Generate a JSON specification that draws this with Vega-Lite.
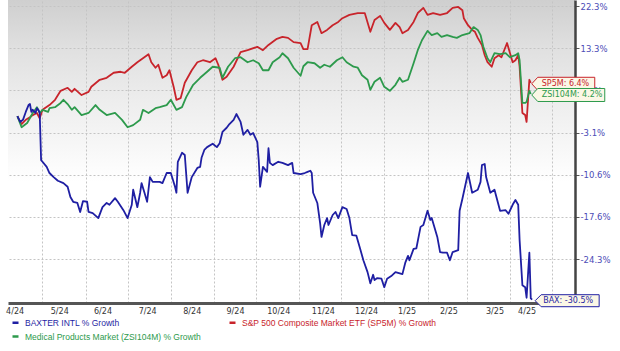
{
  "$schema": "https://vega.github.io/schema/vega-lite/v6.json",
  "width": 567,
  "height": 303,
  "autosize": {"type": "none"},
  "padding": {"left": 8, "top": 0, "right": 45, "bottom": 48},
  "background": "#ffffff",
  "view": {
    "stroke": null,
    "fill": {"gradient": "linear", "x1": 0, "y1": 0, "x2": 0, "y2": 1,
      "stops": [
        {"offset": 0, "color": "#cfcfcf"},
        {"offset": 0.16, "color": "#e0e0e0"},
        {"offset": 0.33, "color": "#ededed"},
        {"offset": 0.5, "color": "#f8f8f8"},
        {"offset": 0.6, "color": "#ffffff"},
        {"offset": 1, "color": "#ffffff"}
      ]}
  },
  "config": {"font": "DejaVu Sans"},
  "datasets": {
    "lines": [
      {"t":"2024-04-13","s":"SP5M","v":0},{"t":"2024-04-15","s":"SP5M","v":-1.1},{"t":"2024-04-16","s":"SP5M","v":-1.5},{"t":"2024-04-19","s":"SP5M","v":-0.7},{"t":"2024-04-22","s":"SP5M","v":-0.2},{"t":"2024-04-24","s":"SP5M","v":0.2},{"t":"2024-04-27","s":"SP5M","v":0.6},{"t":"2024-04-29","s":"SP5M","v":-0.4},{"t":"2024-05-01","s":"SP5M","v":1.2},{"t":"2024-05-06","s":"SP5M","v":2.1},{"t":"2024-05-10","s":"SP5M","v":3.1},{"t":"2024-05-14","s":"SP5M","v":4.8},{"t":"2024-05-19","s":"SP5M","v":5.4},{"t":"2024-05-22","s":"SP5M","v":4.6},{"t":"2024-05-24","s":"SP5M","v":5.2},{"t":"2024-05-29","s":"SP5M","v":4.0},{"t":"2024-06-03","s":"SP5M","v":4.6},{"t":"2024-06-05","s":"SP5M","v":5.6},{"t":"2024-06-11","s":"SP5M","v":7.0},{"t":"2024-06-16","s":"SP5M","v":7.4},{"t":"2024-06-21","s":"SP5M","v":8.4},{"t":"2024-06-26","s":"SP5M","v":8.6},{"t":"2024-06-29","s":"SP5M","v":8.4},{"t":"2024-07-04","s":"SP5M","v":9.6},{"t":"2024-07-08","s":"SP5M","v":10.5},{"t":"2024-07-11","s":"SP5M","v":11.1},{"t":"2024-07-16","s":"SP5M","v":12.1},{"t":"2024-07-18","s":"SP5M","v":10.5},{"t":"2024-07-21","s":"SP5M","v":9.4},{"t":"2024-07-23","s":"SP5M","v":10.0},{"t":"2024-07-26","s":"SP5M","v":7.4},{"t":"2024-07-29","s":"SP5M","v":7.9},{"t":"2024-07-31","s":"SP5M","v":8.9},{"t":"2024-08-03","s":"SP5M","v":5.6},{"t":"2024-08-05","s":"SP5M","v":3.1},{"t":"2024-08-08","s":"SP5M","v":3.4},{"t":"2024-08-11","s":"SP5M","v":6.4},{"t":"2024-08-16","s":"SP5M","v":8.9},{"t":"2024-08-20","s":"SP5M","v":10.5},{"t":"2024-08-24","s":"SP5M","v":10.9},{"t":"2024-08-29","s":"SP5M","v":10.5},{"t":"2024-09-02","s":"SP5M","v":11.3},{"t":"2024-09-04","s":"SP5M","v":10.0},{"t":"2024-09-07","s":"SP5M","v":7.0},{"t":"2024-09-10","s":"SP5M","v":7.6},{"t":"2024-09-15","s":"SP5M","v":9.6},{"t":"2024-09-20","s":"SP5M","v":12.5},{"t":"2024-09-25","s":"SP5M","v":12.9},{"t":"2024-10-02","s":"SP5M","v":13.6},{"t":"2024-10-06","s":"SP5M","v":12.9},{"t":"2024-10-10","s":"SP5M","v":14.0},{"t":"2024-10-16","s":"SP5M","v":15.3},{"t":"2024-10-20","s":"SP5M","v":15.7},{"t":"2024-10-24","s":"SP5M","v":15.5},{"t":"2024-10-28","s":"SP5M","v":14.6},{"t":"2024-11-02","s":"SP5M","v":14.4},{"t":"2024-11-04","s":"SP5M","v":13.1},{"t":"2024-11-07","s":"SP5M","v":13.1},{"t":"2024-11-10","s":"SP5M","v":18.2},{"t":"2024-11-14","s":"SP5M","v":18.9},{"t":"2024-11-17","s":"SP5M","v":16.5},{"t":"2024-11-21","s":"SP5M","v":17.2},{"t":"2024-11-25","s":"SP5M","v":18.2},{"t":"2024-11-29","s":"SP5M","v":18.9},{"t":"2024-12-02","s":"SP5M","v":19.7},{"t":"2024-12-07","s":"SP5M","v":20.4},{"t":"2024-12-13","s":"SP5M","v":20.8},{"t":"2024-12-18","s":"SP5M","v":20.8},{"t":"2024-12-22","s":"SP5M","v":16.8},{"t":"2024-12-25","s":"SP5M","v":19.3},{"t":"2024-12-29","s":"SP5M","v":20.2},{"t":"2025-01-01","s":"SP5M","v":18.7},{"t":"2025-01-05","s":"SP5M","v":17.2},{"t":"2025-01-09","s":"SP5M","v":18.7},{"t":"2025-01-12","s":"SP5M","v":17.8},{"t":"2025-01-14","s":"SP5M","v":16.5},{"t":"2025-01-18","s":"SP5M","v":17.2},{"t":"2025-01-22","s":"SP5M","v":18.9},{"t":"2025-01-25","s":"SP5M","v":20.8},{"t":"2025-01-29","s":"SP5M","v":21.9},{"t":"2025-02-01","s":"SP5M","v":20.4},{"t":"2025-02-05","s":"SP5M","v":20.8},{"t":"2025-02-10","s":"SP5M","v":20.4},{"t":"2025-02-15","s":"SP5M","v":20.8},{"t":"2025-02-19","s":"SP5M","v":21.9},{"t":"2025-02-23","s":"SP5M","v":22.1},{"t":"2025-02-26","s":"SP5M","v":21.4},{"t":"2025-02-27","s":"SP5M","v":19.7},{"t":"2025-03-02","s":"SP5M","v":18.2},{"t":"2025-03-05","s":"SP5M","v":17.2},{"t":"2025-03-07","s":"SP5M","v":16.8},{"t":"2025-03-09","s":"SP5M","v":15.5},{"t":"2025-03-12","s":"SP5M","v":14.0},{"t":"2025-03-14","s":"SP5M","v":11.9},{"t":"2025-03-16","s":"SP5M","v":10.5},{"t":"2025-03-19","s":"SP5M","v":9.6},{"t":"2025-03-21","s":"SP5M","v":11.3},{"t":"2025-03-24","s":"SP5M","v":11.9},{"t":"2025-03-26","s":"SP5M","v":11.5},{"t":"2025-03-30","s":"SP5M","v":14.4},{"t":"2025-04-03","s":"SP5M","v":10.5},{"t":"2025-04-05","s":"SP5M","v":10.9},{"t":"2025-04-07","s":"SP5M","v":11.9},{"t":"2025-04-08","s":"SP5M","v":9.6},{"t":"2025-04-10","s":"SP5M","v":0.6},{"t":"2025-04-12","s":"SP5M","v":0.2},{"t":"2025-04-13","s":"SP5M","v":-1.1},{"t":"2025-04-15","s":"SP5M","v":7.0},{"t":"2025-04-16","s":"SP5M","v":6.4},
      {"t":"2024-04-13","s":"ZSI104M","v":0},{"t":"2024-04-16","s":"ZSI104M","v":-2.1},{"t":"2024-04-20","s":"ZSI104M","v":-1.3},{"t":"2024-04-24","s":"ZSI104M","v":0.6},{"t":"2024-04-27","s":"ZSI104M","v":1.7},{"t":"2024-04-29","s":"ZSI104M","v":0.6},{"t":"2024-05-01","s":"ZSI104M","v":1.2},{"t":"2024-05-05","s":"ZSI104M","v":0.8},{"t":"2024-05-06","s":"ZSI104M","v":1.5},{"t":"2024-05-10","s":"ZSI104M","v":1.7},{"t":"2024-05-14","s":"ZSI104M","v":2.5},{"t":"2024-05-16","s":"ZSI104M","v":3.1},{"t":"2024-05-19","s":"ZSI104M","v":2.3},{"t":"2024-05-22","s":"ZSI104M","v":1.2},{"t":"2024-05-24","s":"ZSI104M","v":1.7},{"t":"2024-05-29","s":"ZSI104M","v":0.2},{"t":"2024-06-03","s":"ZSI104M","v":0.6},{"t":"2024-06-08","s":"ZSI104M","v":2.1},{"t":"2024-06-11","s":"ZSI104M","v":1.2},{"t":"2024-06-16","s":"ZSI104M","v":0.2},{"t":"2024-06-22","s":"ZSI104M","v":0.6},{"t":"2024-06-27","s":"ZSI104M","v":-0.7},{"t":"2024-07-01","s":"ZSI104M","v":-2.1},{"t":"2024-07-05","s":"ZSI104M","v":-1.7},{"t":"2024-07-10","s":"ZSI104M","v":-0.7},{"t":"2024-07-12","s":"ZSI104M","v":1.2},{"t":"2024-07-16","s":"ZSI104M","v":0.6},{"t":"2024-07-21","s":"ZSI104M","v":1.5},{"t":"2024-07-24","s":"ZSI104M","v":1.7},{"t":"2024-07-29","s":"ZSI104M","v":2.1},{"t":"2024-08-01","s":"ZSI104M","v":3.1},{"t":"2024-08-05","s":"ZSI104M","v":1.2},{"t":"2024-08-09","s":"ZSI104M","v":1.7},{"t":"2024-08-12","s":"ZSI104M","v":3.6},{"t":"2024-08-17","s":"ZSI104M","v":6.0},{"t":"2024-08-22","s":"ZSI104M","v":7.4},{"t":"2024-08-27","s":"ZSI104M","v":8.6},{"t":"2024-08-31","s":"ZSI104M","v":9.6},{"t":"2024-09-05","s":"ZSI104M","v":9.4},{"t":"2024-09-07","s":"ZSI104M","v":7.4},{"t":"2024-09-11","s":"ZSI104M","v":9.6},{"t":"2024-09-16","s":"ZSI104M","v":11.3},{"t":"2024-09-20","s":"ZSI104M","v":11.5},{"t":"2024-09-25","s":"ZSI104M","v":10.5},{"t":"2024-09-29","s":"ZSI104M","v":10.9},{"t":"2024-10-03","s":"ZSI104M","v":10.3},{"t":"2024-10-06","s":"ZSI104M","v":8.9},{"t":"2024-10-10","s":"ZSI104M","v":8.9},{"t":"2024-10-13","s":"ZSI104M","v":10.5},{"t":"2024-10-18","s":"ZSI104M","v":11.5},{"t":"2024-10-20","s":"ZSI104M","v":12.3},{"t":"2024-10-24","s":"ZSI104M","v":11.3},{"t":"2024-10-28","s":"ZSI104M","v":9.4},{"t":"2024-11-02","s":"ZSI104M","v":7.8},{"t":"2024-11-04","s":"ZSI104M","v":9.7},{"t":"2024-11-07","s":"ZSI104M","v":10.5},{"t":"2024-11-12","s":"ZSI104M","v":10.3},{"t":"2024-11-16","s":"ZSI104M","v":9.4},{"t":"2024-11-19","s":"ZSI104M","v":10.0},{"t":"2024-11-23","s":"ZSI104M","v":9.6},{"t":"2024-11-28","s":"ZSI104M","v":10.9},{"t":"2024-12-02","s":"ZSI104M","v":11.5},{"t":"2024-12-05","s":"ZSI104M","v":10.5},{"t":"2024-12-10","s":"ZSI104M","v":9.6},{"t":"2024-12-13","s":"ZSI104M","v":9.4},{"t":"2024-12-16","s":"ZSI104M","v":7.9},{"t":"2024-12-20","s":"ZSI104M","v":7.0},{"t":"2024-12-22","s":"ZSI104M","v":5.0},{"t":"2024-12-25","s":"ZSI104M","v":6.6},{"t":"2024-12-29","s":"ZSI104M","v":7.4},{"t":"2025-01-01","s":"ZSI104M","v":5.6},{"t":"2025-01-05","s":"ZSI104M","v":4.8},{"t":"2025-01-09","s":"ZSI104M","v":6.0},{"t":"2025-01-12","s":"ZSI104M","v":7.4},{"t":"2025-01-14","s":"ZSI104M","v":6.6},{"t":"2025-01-18","s":"ZSI104M","v":7.0},{"t":"2025-01-22","s":"ZSI104M","v":10.3},{"t":"2025-01-25","s":"ZSI104M","v":12.9},{"t":"2025-01-28","s":"ZSI104M","v":15.0},{"t":"2025-02-01","s":"ZSI104M","v":17.0},{"t":"2025-02-04","s":"ZSI104M","v":16.1},{"t":"2025-02-08","s":"ZSI104M","v":16.5},{"t":"2025-02-11","s":"ZSI104M","v":15.7},{"t":"2025-02-15","s":"ZSI104M","v":16.1},{"t":"2025-02-19","s":"ZSI104M","v":15.7},{"t":"2025-02-22","s":"ZSI104M","v":15.5},{"t":"2025-02-26","s":"ZSI104M","v":16.1},{"t":"2025-03-03","s":"ZSI104M","v":16.5},{"t":"2025-03-06","s":"ZSI104M","v":17.8},{"t":"2025-03-09","s":"ZSI104M","v":17.2},{"t":"2025-03-11","s":"ZSI104M","v":16.1},{"t":"2025-03-13","s":"ZSI104M","v":13.6},{"t":"2025-03-16","s":"ZSI104M","v":11.3},{"t":"2025-03-18","s":"ZSI104M","v":10.5},{"t":"2025-03-21","s":"ZSI104M","v":12.3},{"t":"2025-03-25","s":"ZSI104M","v":12.1},{"t":"2025-03-29","s":"ZSI104M","v":12.3},{"t":"2025-04-01","s":"ZSI104M","v":11.5},{"t":"2025-04-05","s":"ZSI104M","v":11.9},{"t":"2025-04-07","s":"ZSI104M","v":12.3},{"t":"2025-04-08","s":"ZSI104M","v":10.9},{"t":"2025-04-10","s":"ZSI104M","v":2.5},{"t":"2025-04-12","s":"ZSI104M","v":2.5},{"t":"2025-04-13","s":"ZSI104M","v":2.7},{"t":"2025-04-15","s":"ZSI104M","v":4.8},{"t":"2025-04-16","s":"ZSI104M","v":4.2},
      {"t":"2024-04-13","s":"BAX","v":0},{"t":"2024-04-15","s":"BAX","v":-1.1},{"t":"2024-04-17","s":"BAX","v":-0.7},{"t":"2024-04-19","s":"BAX","v":0.8},{"t":"2024-04-21","s":"BAX","v":2.1},{"t":"2024-04-22","s":"BAX","v":2.3},{"t":"2024-04-23","s":"BAX","v":0.8},{"t":"2024-04-24","s":"BAX","v":1.2},{"t":"2024-04-26","s":"BAX","v":0.6},{"t":"2024-04-27","s":"BAX","v":1.5},{"t":"2024-04-28","s":"BAX","v":1.2},{"t":"2024-04-29","s":"BAX","v":0.6},{"t":"2024-04-30","s":"BAX","v":-8.0},{"t":"2024-05-01","s":"BAX","v":-8.3},{"t":"2024-05-04","s":"BAX","v":-9.2},{"t":"2024-05-06","s":"BAX","v":-10.3},{"t":"2024-05-09","s":"BAX","v":-11.0},{"t":"2024-05-12","s":"BAX","v":-11.6},{"t":"2024-05-16","s":"BAX","v":-12.0},{"t":"2024-05-19","s":"BAX","v":-12.6},{"t":"2024-05-21","s":"BAX","v":-14.3},{"t":"2024-05-23","s":"BAX","v":-15.1},{"t":"2024-05-26","s":"BAX","v":-15.3},{"t":"2024-05-28","s":"BAX","v":-16.8},{"t":"2024-05-30","s":"BAX","v":-15.0},{"t":"2024-06-02","s":"BAX","v":-15.1},{"t":"2024-06-03","s":"BAX","v":-16.8},{"t":"2024-06-06","s":"BAX","v":-17.0},{"t":"2024-06-10","s":"BAX","v":-17.8},{"t":"2024-06-13","s":"BAX","v":-16.0},{"t":"2024-06-16","s":"BAX","v":-15.3},{"t":"2024-06-18","s":"BAX","v":-15.6},{"t":"2024-06-22","s":"BAX","v":-14.5},{"t":"2024-06-24","s":"BAX","v":-15.1},{"t":"2024-06-28","s":"BAX","v":-16.5},{"t":"2024-07-01","s":"BAX","v":-17.8},{"t":"2024-07-04","s":"BAX","v":-15.6},{"t":"2024-07-05","s":"BAX","v":-13.1},{"t":"2024-07-08","s":"BAX","v":-16.0},{"t":"2024-07-10","s":"BAX","v":-13.6},{"t":"2024-07-11","s":"BAX","v":-12.0},{"t":"2024-07-13","s":"BAX","v":-13.5},{"t":"2024-07-15","s":"BAX","v":-15.1},{"t":"2024-07-17","s":"BAX","v":-11.0},{"t":"2024-07-19","s":"BAX","v":-11.8},{"t":"2024-07-24","s":"BAX","v":-11.8},{"t":"2024-07-26","s":"BAX","v":-12.0},{"t":"2024-07-29","s":"BAX","v":-10.3},{"t":"2024-08-01","s":"BAX","v":-10.3},{"t":"2024-08-04","s":"BAX","v":-12.6},{"t":"2024-08-05","s":"BAX","v":-13.6},{"t":"2024-08-06","s":"BAX","v":-8.3},{"t":"2024-08-09","s":"BAX","v":-6.7},{"t":"2024-08-11","s":"BAX","v":-7.1},{"t":"2024-08-13","s":"BAX","v":-13.6},{"t":"2024-08-16","s":"BAX","v":-11.0},{"t":"2024-08-20","s":"BAX","v":-9.4},{"t":"2024-08-22","s":"BAX","v":-9.2},{"t":"2024-08-23","s":"BAX","v":-7.6},{"t":"2024-08-25","s":"BAX","v":-6.2},{"t":"2024-08-27","s":"BAX","v":-5.7},{"t":"2024-08-31","s":"BAX","v":-5.1},{"t":"2024-09-03","s":"BAX","v":-5.7},{"t":"2024-09-05","s":"BAX","v":-5.0},{"t":"2024-09-07","s":"BAX","v":-3.0},{"t":"2024-09-10","s":"BAX","v":-2.2},{"t":"2024-09-12","s":"BAX","v":-1.5},{"t":"2024-09-15","s":"BAX","v":-0.7},{"t":"2024-09-17","s":"BAX","v":0.4},{"t":"2024-09-20","s":"BAX","v":-1.1},{"t":"2024-09-22","s":"BAX","v":-3.5},{"t":"2024-09-25","s":"BAX","v":-2.6},{"t":"2024-09-27","s":"BAX","v":-3.5},{"t":"2024-09-29","s":"BAX","v":-3.2},{"t":"2024-10-02","s":"BAX","v":-4.8},{"t":"2024-10-03","s":"BAX","v":-8.0},{"t":"2024-10-04","s":"BAX","v":-12.6},{"t":"2024-10-06","s":"BAX","v":-9.2},{"t":"2024-10-09","s":"BAX","v":-10.1},{"t":"2024-10-10","s":"BAX","v":-5.9},{"t":"2024-10-11","s":"BAX","v":-8.5},{"t":"2024-10-13","s":"BAX","v":-8.9},{"t":"2024-10-17","s":"BAX","v":-8.3},{"t":"2024-10-20","s":"BAX","v":-8.5},{"t":"2024-10-24","s":"BAX","v":-8.9},{"t":"2024-10-27","s":"BAX","v":-8.5},{"t":"2024-10-28","s":"BAX","v":-10.3},{"t":"2024-11-02","s":"BAX","v":-10.5},{"t":"2024-11-05","s":"BAX","v":-10.3},{"t":"2024-11-07","s":"BAX","v":-10.1},{"t":"2024-11-09","s":"BAX","v":-9.9},{"t":"2024-11-10","s":"BAX","v":-10.3},{"t":"2024-11-11","s":"BAX","v":-13.6},{"t":"2024-11-14","s":"BAX","v":-15.3},{"t":"2024-11-16","s":"BAX","v":-18.6},{"t":"2024-11-17","s":"BAX","v":-20.8},{"t":"2024-11-19","s":"BAX","v":-18.9},{"t":"2024-11-21","s":"BAX","v":-17.8},{"t":"2024-11-22","s":"BAX","v":-18.9},{"t":"2024-11-25","s":"BAX","v":-17.3},{"t":"2024-11-27","s":"BAX","v":-16.8},{"t":"2024-11-29","s":"BAX","v":-17.8},{"t":"2024-12-02","s":"BAX","v":-16.0},{"t":"2024-12-05","s":"BAX","v":-16.3},{"t":"2024-12-07","s":"BAX","v":-17.8},{"t":"2024-12-09","s":"BAX","v":-20.5},{"t":"2024-12-12","s":"BAX","v":-20.6},{"t":"2024-12-15","s":"BAX","v":-22.9},{"t":"2024-12-17","s":"BAX","v":-24.5},{"t":"2024-12-20","s":"BAX","v":-26.3},{"t":"2024-12-22","s":"BAX","v":-28.0},{"t":"2024-12-24","s":"BAX","v":-26.7},{"t":"2024-12-25","s":"BAX","v":-27.5},{"t":"2024-12-27","s":"BAX","v":-27.2},{"t":"2024-12-30","s":"BAX","v":-27.3},{"t":"2025-01-01","s":"BAX","v":-28.6},{"t":"2025-01-03","s":"BAX","v":-27.3},{"t":"2025-01-06","s":"BAX","v":-26.9},{"t":"2025-01-09","s":"BAX","v":-26.3},{"t":"2025-01-14","s":"BAX","v":-26.6},{"t":"2025-01-16","s":"BAX","v":-24.9},{"t":"2025-01-18","s":"BAX","v":-23.8},{"t":"2025-01-19","s":"BAX","v":-24.5},{"t":"2025-01-22","s":"BAX","v":-22.7},{"t":"2025-01-24","s":"BAX","v":-22.6},{"t":"2025-01-27","s":"BAX","v":-19.2},{"t":"2025-01-29","s":"BAX","v":-18.9},{"t":"2025-02-01","s":"BAX","v":-16.6},{"t":"2025-02-03","s":"BAX","v":-18.1},{"t":"2025-02-04","s":"BAX","v":-17.8},{"t":"2025-02-08","s":"BAX","v":-20.8},{"t":"2025-02-10","s":"BAX","v":-23.2},{"t":"2025-02-12","s":"BAX","v":-23.3},{"t":"2025-02-15","s":"BAX","v":-23.3},{"t":"2025-02-17","s":"BAX","v":-24.5},{"t":"2025-02-19","s":"BAX","v":-23.2},{"t":"2025-02-23","s":"BAX","v":-22.9},{"t":"2025-02-24","s":"BAX","v":-16.6},{"t":"2025-02-26","s":"BAX","v":-14.6},{"t":"2025-03-02","s":"BAX","v":-10.3},{"t":"2025-03-05","s":"BAX","v":-13.6},{"t":"2025-03-09","s":"BAX","v":-13.1},{"t":"2025-03-11","s":"BAX","v":-11.8},{"t":"2025-03-12","s":"BAX","v":-8.9},{"t":"2025-03-14","s":"BAX","v":-8.7},{"t":"2025-03-15","s":"BAX","v":-11.0},{"t":"2025-03-18","s":"BAX","v":-13.6},{"t":"2025-03-21","s":"BAX","v":-13.1},{"t":"2025-03-25","s":"BAX","v":-16.6},{"t":"2025-03-29","s":"BAX","v":-16.5},{"t":"2025-03-31","s":"BAX","v":-17.1},{"t":"2025-04-03","s":"BAX","v":-15.6},{"t":"2025-04-05","s":"BAX","v":-14.8},{"t":"2025-04-07","s":"BAX","v":-15.6},{"t":"2025-04-08","s":"BAX","v":-21.3},{"t":"2025-04-10","s":"BAX","v":-28.3},{"t":"2025-04-12","s":"BAX","v":-28.6},{"t":"2025-04-13","s":"BAX","v":-30.2},{"t":"2025-04-15","s":"BAX","v":-23.3},{"t":"2025-04-16","s":"BAX","v":-30.3},{"t":"2025-04-17","s":"BAX","v":-30.5}
    ],
    "labels": [
      {"t":"2025-04-16","s":"SP5M","v":6.4,"txt":"SP5M: 6.4%"},
      {"t":"2025-04-16","s":"ZSI104M","v":4.2,"txt":"ZSI104M: 4.2%"},
      {"t":"2025-04-17","s":"BAX","v":-30.5,"txt":"BAX: -30.5%"}
    ]
  },
  "resolve": {"scale": {"x": "shared", "y": "shared"}, "axis": {"x": "independent"}},
  "layer": [
    {
      "data": {"name": "lines"},
      "mark": {"type": "line", "strokeWidth": 1.8, "strokeJoin": "round"},
      "encoding": {
        "x": {"field": "t", "type": "temporal",
          "scale": {"domain": [{"year":2024,"month":4,"date":6,"hours":6,"minutes":30},{"year":2025,"month":5,"date":17,"hours":17}], "nice": false},
          "axis": {
            "title": null, "grid": false, "ticks": false,
            "values": [
              {"year":2024,"month":4,"date":11},{"year":2024,"month":5,"date":13},{"year":2024,"month":6,"date":13},{"year":2024,"month":7,"date":15},{"year":2024,"month":8,"date":16},{"year":2024,"month":9,"date":16},{"year":2024,"month":10,"date":17},{"year":2024,"month":11,"date":18},{"year":2024,"month":12,"date":19},{"year":2025,"month":1,"date":17},{"year":2025,"month":2,"date":16},{"year":2025,"month":3,"date":21},{"year":2025,"month":4,"date":13}
            ],
            "format": "%-m/%y", "labelFont": "DejaVu Sans", "labelFontSize": 8, "labelColor": "#333333",
            "labelPadding": 4, "labelFlush": false, "labelOverlap": false, "labelBound": false,
            "domainColor": "#555555", "domainWidth": 3
          }
        },
        "y": {"field": "v", "type": "quantitative",
          "scale": {"domain": [-31.0, -24.3, -17.6, -10.6, -3.1, 4.9, 13.3, 22.3, 23.6], "range": [303, 259, 216.8, 174.7, 132.5, 90.3, 48.2, 6, 0], "nice": false, "zero": false},
          "axis": {
            "orient": "right", "title": null,
            "values": [22.3, 13.3, 4.9, -3.1, -10.6, -17.6, -24.3],
            "labelExpr": "datum.value + '%'",
            "labelFont": "DejaVu Sans", "labelFontSize": 8.5, "labelColor": "#4c4cb6", "labelPadding": 1,
            "labelOverlap": false, "labelFlush": false, "labelBound": false,
            "tickSize": 4, "tickColor": "#555555", "tickWidth": 1,
            "domainColor": "#444444", "domainWidth": 2.5,
            "grid": true, "gridColor": "#c4c4c4", "gridDash": [2, 2], "gridWidth": 1
          }
        },
        "color": {"field": "s", "type": "nominal",
          "scale": {"domain": ["BAX", "SP5M", "ZSI104M"], "range": ["#1f1fa3", "#c8242b", "#2d9a4c"]},
          "legend": {
            "title": null, "orient": "none", "legendX": 3, "legendY": 318, "direction": "horizontal", "columns": 2,
            "symbolType": "stroke", "symbolSize": 36, "symbolStrokeWidth": 2.5,
            "labelFont": "Liberation Sans", "labelFontSize": 8.5, "labelLimit": 400, "labelOffset": 5,
            "columnPadding": 23, "rowPadding": 3,
            "labelExpr": "datum.value == 'BAX' ? 'BAXTER INTL % Growth' : datum.value == 'SP5M' ? 'S&P 500 Composite Market ETF (SP5M) % Growth' : 'Medical Products Market (ZSI104M) % Growth'",
            "encode": {"labels": {"update": {"fill": {"scale": "color", "field": "value"}}}}
          }
        }
      }
    },
    {
      "data": {"name": "labels"},
      "mark": {"type": "point", "filled": false, "fill": "#fbf7e6", "fillOpacity": 1, "opacity": 1, "strokeWidth": 1, "size": 4, "yOffset": 1},
      "encoding": {
        "x": {"field": "t", "type": "temporal",
          "axis": {"title": null, "grid": true, "gridColor": "#c4c4c4", "gridDash": [2, 2], "gridWidth": 1, "labels": false, "ticks": false, "domain": false,
            "tickCount": {"interval": "month", "step": 1}}},
        "y": {"field": "v", "type": "quantitative"},
        "color": {"field": "s", "type": "nominal", "legend": null},
        "shape": {"field": "txt", "type": "nominal", "legend": null,
          "scale": {"domain": ["BAX: -30.5%", "SP5M: 6.4%", "ZSI104M: 4.2%"], "range": ["M3,0L9,-6L67,-6L67,6L9,6Z", "M1,0L7,-6.5L64,-6.5L64,6.5L7,6.5Z", "M1,0L7,-6.5L74,-6.5L74,6.5L7,6.5Z"]}}
      }
    },
    {
      "data": {"name": "labels"},
      "mark": {"type": "text", "align": "left", "baseline": "middle", "dx": 11, "dy": 1, "font": "DejaVu Sans", "fontSize": 8},
      "encoding": {
        "x": {"field": "t", "type": "temporal", "axis": null},
        "y": {"field": "v", "type": "quantitative"},
        "color": {"field": "s", "type": "nominal", "legend": null},
        "text": {"field": "txt"}
      }
    }
  ]
}
